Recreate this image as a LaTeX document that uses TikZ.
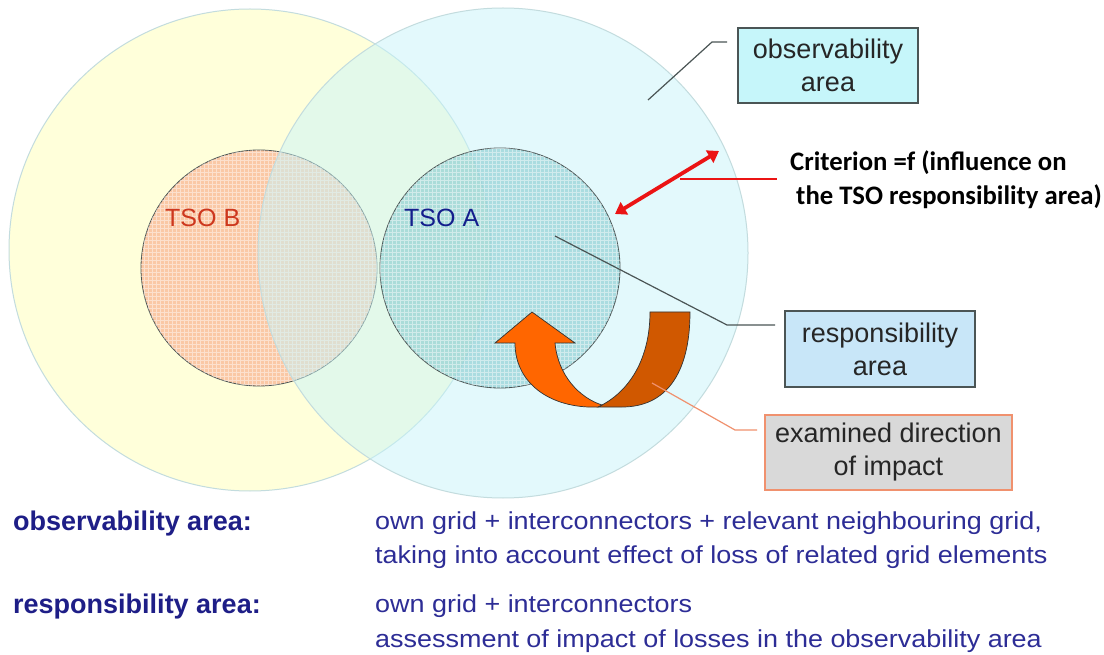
\documentclass[tikz,border=0pt]{standalone}
\usepackage{fontspec}
\setmainfont{Liberation Sans}
\newfontfamily\critfont{Carlito}
\usetikzlibrary{arrows.meta}

\definecolor{obsB}{RGB}{255,255,218}
\definecolor{obsA}{RGB}{200,245,250}
\definecolor{rimcol}{RGB}{195,220,222}
\definecolor{respB}{RGB}{250,200,165}
\definecolor{respA}{RGB}{130,200,205}
\definecolor{edgecol}{RGB}{75,85,85}
\definecolor{obsbox}{RGB}{198,246,250}
\definecolor{respbox}{RGB}{200,230,248}
\definecolor{exambox}{RGB}{217,217,217}
\definecolor{salmon}{RGB}{240,145,110}
\definecolor{arrowlight}{RGB}{255,102,0}
\definecolor{arrowdark}{RGB}{208,88,0}
\definecolor{critred}{RGB}{235,20,20}
\definecolor{navy}{RGB}{30,30,135}
\definecolor{navytext}{RGB}{45,45,150}
\definecolor{tsored}{RGB}{205,55,30}
\definecolor{tsoblue}{RGB}{20,30,140}

\tikzset{
  labelbox/.style={draw=edgecol, line width=1.4pt, text=black!85,
    font=\fontsize{27}{33}\selectfont, align=center, inner sep=0pt},
  leader/.style={draw=edgecol, line width=1.2pt},
  deflabel/.style={anchor=base west, text=navy, inner sep=0pt,
    font=\fontsize{27}{32}\selectfont\bfseries},
  deftext/.style={anchor=base west, text=navytext, inner sep=0pt, xscale=1.1,
    font=\fontsize{24.5}{30}\selectfont},
  tsolabel/.style={anchor=base west, inner sep=0pt,
    font=\fontsize{25}{29}\selectfont},
  texture/.style={white, line width=0.5pt, opacity=0.45}
}

\begin{document}
\begin{tikzpicture}[x=1pt, y=-1pt]
\useasboundingbox (0,0) rectangle (1104,655);
\fill[white] (0,0) rectangle (1104,655);

% observability area of TSO B
\filldraw[fill=obsB, draw=rimcol, line width=1pt] (250,250) circle [radius=241];
% responsibility area of TSO B
\filldraw[fill=respB, draw=edgecol, line width=0.8pt] (259,268) circle [radius=118];
\begin{scope}
  \clip (259,268) circle [radius=118];
  \draw[texture] (140,150) grid[step=4pt] (380,390);
\end{scope}
% observability area of TSO A
\filldraw[fill=obsA, fill opacity=0.5, draw=rimcol, line width=1pt] (503,253) circle [radius=245];
% responsibility area of TSO A
\filldraw[fill=respA, fill opacity=0.58, draw=edgecol, line width=0.8pt] (500,268) circle [radius=120];
\begin{scope}
  \clip (500,268) circle [radius=120];
  \draw[texture] (380,148) grid[step=4pt] (620,388);
\end{scope}

\node[tsolabel, text=tsored] (tsob) at (165,227) {TSO B};
\node[tsolabel, text=tsoblue] (tsoa) at (404,227) {TSO A};

% examined direction of impact: twisted U-turn arrow
\filldraw[fill=arrowdark, draw=black!80, line width=0.7pt]
  (650,312) -- (690,312) .. controls (690,375) and (665,407) .. (622,407)
  -- (598,407) .. controls (630,392) and (650,358) .. (650,312) -- cycle;
\filldraw[fill=arrowlight, draw=black!80, line width=0.7pt]
  (532,312) -- (575,343) -- (555,343) .. controls (558,376) and (580,398) .. (602,405)
  -- (598,407) -- (588,407) .. controls (545,405) and (515,380) .. (515,343)
  -- (495,343) -- cycle;

% criterion arrow between the two boundaries
\coordinate (cA) at (615,214);
\coordinate (cB) at (719,151);
\draw[critred, line width=3.8pt, {Triangle[length=11pt,width=14pt]}-{Triangle[length=11pt,width=14pt]}] (cA) -- (cB);
\coordinate (cmid) at (680,179);
\node[anchor=base west, inner sep=0pt, align=left,
  font=\critfont\fontsize{26.7}{34}\selectfont\bfseries] (crit) at (790,205)
  {Criterion =f (influence on\\\ the TSO responsibility area)};
\draw[critred, line width=1.2pt] (cmid) -- (777,179);

% labelled boxes
\node[labelbox, fill=obsbox, minimum width=180pt, minimum height=75pt] (obsl) at (828,65.5)
  {observability\\area};
\node[labelbox, fill=respbox, minimum width=190pt, minimum height=76pt] (respl) at (880,349)
  {responsibility\\area};
\node[labelbox, fill=exambox, draw=salmon, line width=2pt, minimum width=247pt, minimum height=75pt] (examl) at (888.5,452.5)
  {examined direction\\of impact};

% leader lines
\coordinate (obsp) at (648,100);
\coordinate (respp) at (555,236);
\coordinate (examp) at (652,383);
\draw[leader] (obsp) -- (712,42) -- (727,42);
\draw[leader] (respp) -- (727,325) -- (775,325);
\draw[leader, draw=salmon] (examp) -- (735,430) -- (757,430);

% definitions
\node[deflabel] (d1) at (13,530) {observability area:};
\node[deftext] (t1) at (375,529) {own grid + interconnectors + relevant neighbouring grid,};
\node[deftext] (t2) at (375,563) {taking into account effect of loss of related grid elements};
\node[deflabel] (d2) at (13,613) {responsibility area:};
\node[deftext] (t3) at (375,612) {own grid + interconnectors};
\node[deftext] (t4) at (375,647) {assessment of impact of losses in the observability area};
\end{tikzpicture}
\end{document}
